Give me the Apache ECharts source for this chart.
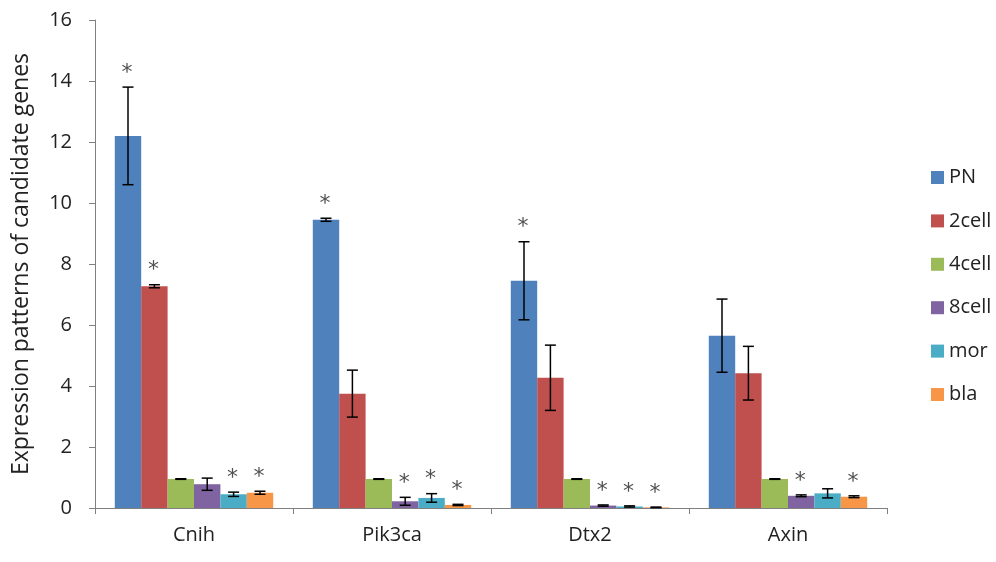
<!DOCTYPE html>
<html>
<head>
<meta charset="utf-8">
<script src="https://cdn.jsdelivr.net/npm/echarts@6/dist/echarts.min.js"></script>
<style>
  html, body { margin: 0; padding: 0; background: #fff; }
  #chart { width: 996px; height: 562px; }
</style>
</head>
<body>
<div id="chart"></div>
<script>
// Genes on the x axis
const categories = ['Cnih', 'Pik3ca', 'Dtx2', 'Axin'];

// Developmental stages (one bar series each)
const stages = ['PN', '2cell', '4cell', '8cell', 'mor', 'bla'];

// Mean expression per stage, in gene order
const valPN    = [12.2, 9.45, 7.45, 5.65];
const val2cell = [7.27, 3.75, 4.27, 4.42];
const val4cell = [0.95, 0.95, 0.95, 0.95];
const val8cell = [0.78, 0.22, 0.08, 0.40];
const valMor   = [0.45, 0.33, 0.05, 0.48];
const valBla   = [0.50, 0.10, 0.02, 0.37];

// Error (± SD) per stage
const errPN    = [1.60, 0.05, 1.28, 1.20];
const err2cell = [0.05, 0.77, 1.07, 0.88];
const err4cell = [0.01, 0.01, 0.01, 0.01];
const err8cell = [0.20, 0.13, 0.02, 0.03];
const errMor   = [0.07, 0.14, 0.02, 0.15];
const errBla   = [0.05, 0.02, 0.01, 0.03];

// Significance marks (1 = asterisk)
const sigPN    = [1, 1, 1, 0];
const sig2cell = [1, 0, 0, 0];
const sig4cell = [0, 0, 0, 0];
const sig8cell = [0, 1, 1, 1];
const sigMor   = [1, 1, 1, 0];
const sigBla   = [1, 1, 1, 1];

// Y axis ticks
const yTicks = [0, 2, 4, 6, 8, 10, 12, 14, 16];

const colors = ['#4F81BD', '#C0504D', '#9BBB59', '#8064A2', '#4BACC6', '#F79646'];
const values = [valPN, val2cell, val4cell, val8cell, valMor, valBla];
const errors = [errPN, err2cell, err4cell, err8cell, errMor, errBla];
const sigs   = [sigPN, sig2cell, sig4cell, sig8cell, sigMor, sigBla];

const FONT = '"Open Sans", "DejaVu Sans", sans-serif';
const catGap = 0.2;        // barCategoryGap as fraction
const nSeries = stages.length;

// Flattened records for the error-bar / asterisk overlay
const errData = [];
for (let s = 0; s < nSeries; s++) {
  for (let c = 0; c < categories.length; c++) {
    errData.push([c, values[s][c], errors[s][c], s, sigs[s][c]]);
  }
}

const barSeries = stages.map((name, i) => ({
  name: name,
  type: 'bar',
  data: values[i],
  barGap: '0%',
  barCategoryGap: (catGap * 100) + '%',
  itemStyle: { color: colors[i] },
  emphasis: { disabled: true },
  z: 2
}));

const overlay = {
  type: 'custom',
  name: 'errors',
  data: errData,
  encode: { x: 0, y: 1 },
  z: 10,
  silent: true,
  renderItem: function (params, api) {
    const cat = api.value(0);
    const v = api.value(1);
    const e = api.value(2);
    const s = api.value(3);
    const sig = api.value(4);
    const band = api.size([1, 0])[0];
    const bw = band * (1 - catGap) / nSeries;
    const center = api.coord([cat, 0])[0];
    const x = center - bw * nSeries / 2 + bw * (s + 0.5);
    const yTop = api.coord([cat, v + e])[1];
    const yBot = api.coord([cat, Math.max(v - e, 0)])[1];
    const cap = 5.5;
    const st = { stroke: '#000', lineWidth: 1.5 };
    const children = [
      { type: 'line', shape: { x1: x, y1: yTop, x2: x, y2: yBot }, style: st },
      { type: 'line', shape: { x1: x - cap, y1: yTop, x2: x + cap, y2: yTop }, style: st },
      { type: 'line', shape: { x1: x - cap, y1: yBot, x2: x + cap, y2: yBot }, style: st }
    ];
    if (sig) {
      children.push({
        type: 'text',
        style: {
          text: '*',
          x: x - 1,
          y: yTop - 3,
          align: 'center',
          verticalAlign: 'bottom',
          font: '22px "DejaVu Sans", sans-serif',
          fill: '#505050'
        }
      });
    }
    return { type: 'group', children: children };
  }
};

const chart = echarts.init(document.getElementById('chart'), null, { renderer: 'canvas' });
chart.setOption({
  animation: false,
  backgroundColor: '#ffffff',
  color: colors,
  legend: {
    data: stages,
    orient: 'vertical',
    left: 926,
    top: 162,
    itemWidth: 13,
    itemHeight: 13,
    itemGap: 22.4,
    icon: 'rect',
    textStyle: { fontSize: 20, lineHeight: 21, color: '#222', fontFamily: FONT, padding: [0, 0, 0, 0] },
    selectedMode: false
  },
  grid: { left: 95, right: 109, top: 20, bottom: 54, containLabel: false },
  xAxis: {
    type: 'category',
    data: categories,
    axisLine: { lineStyle: { color: '#808080', width: 1 } },
    axisTick: { show: true, length: 6, lineStyle: { color: '#808080' }, alignWithLabel: false },
    axisLabel: { fontSize: 20, color: '#222', margin: 17, fontFamily: FONT },
    splitLine: { show: false }
  },
  yAxis: {
    type: 'value',
    min: yTicks[0],
    max: yTicks[yTicks.length - 1],
    interval: yTicks[1] - yTicks[0],
    name: 'Expression patterns of candidate genes',
    nameLocation: 'middle',
    nameGap: 62,
    nameTextStyle: { fontSize: 23, color: '#222', fontFamily: FONT },
    axisLine: { show: true, lineStyle: { color: '#808080', width: 1 } },
    axisTick: { show: true, length: 6, lineStyle: { color: '#808080' } },
    axisLabel: { fontSize: 20, color: '#222', margin: 23, fontFamily: FONT },
    splitLine: { show: false }
  },
  series: barSeries.concat([overlay])
});
</script>
</body>
</html>
